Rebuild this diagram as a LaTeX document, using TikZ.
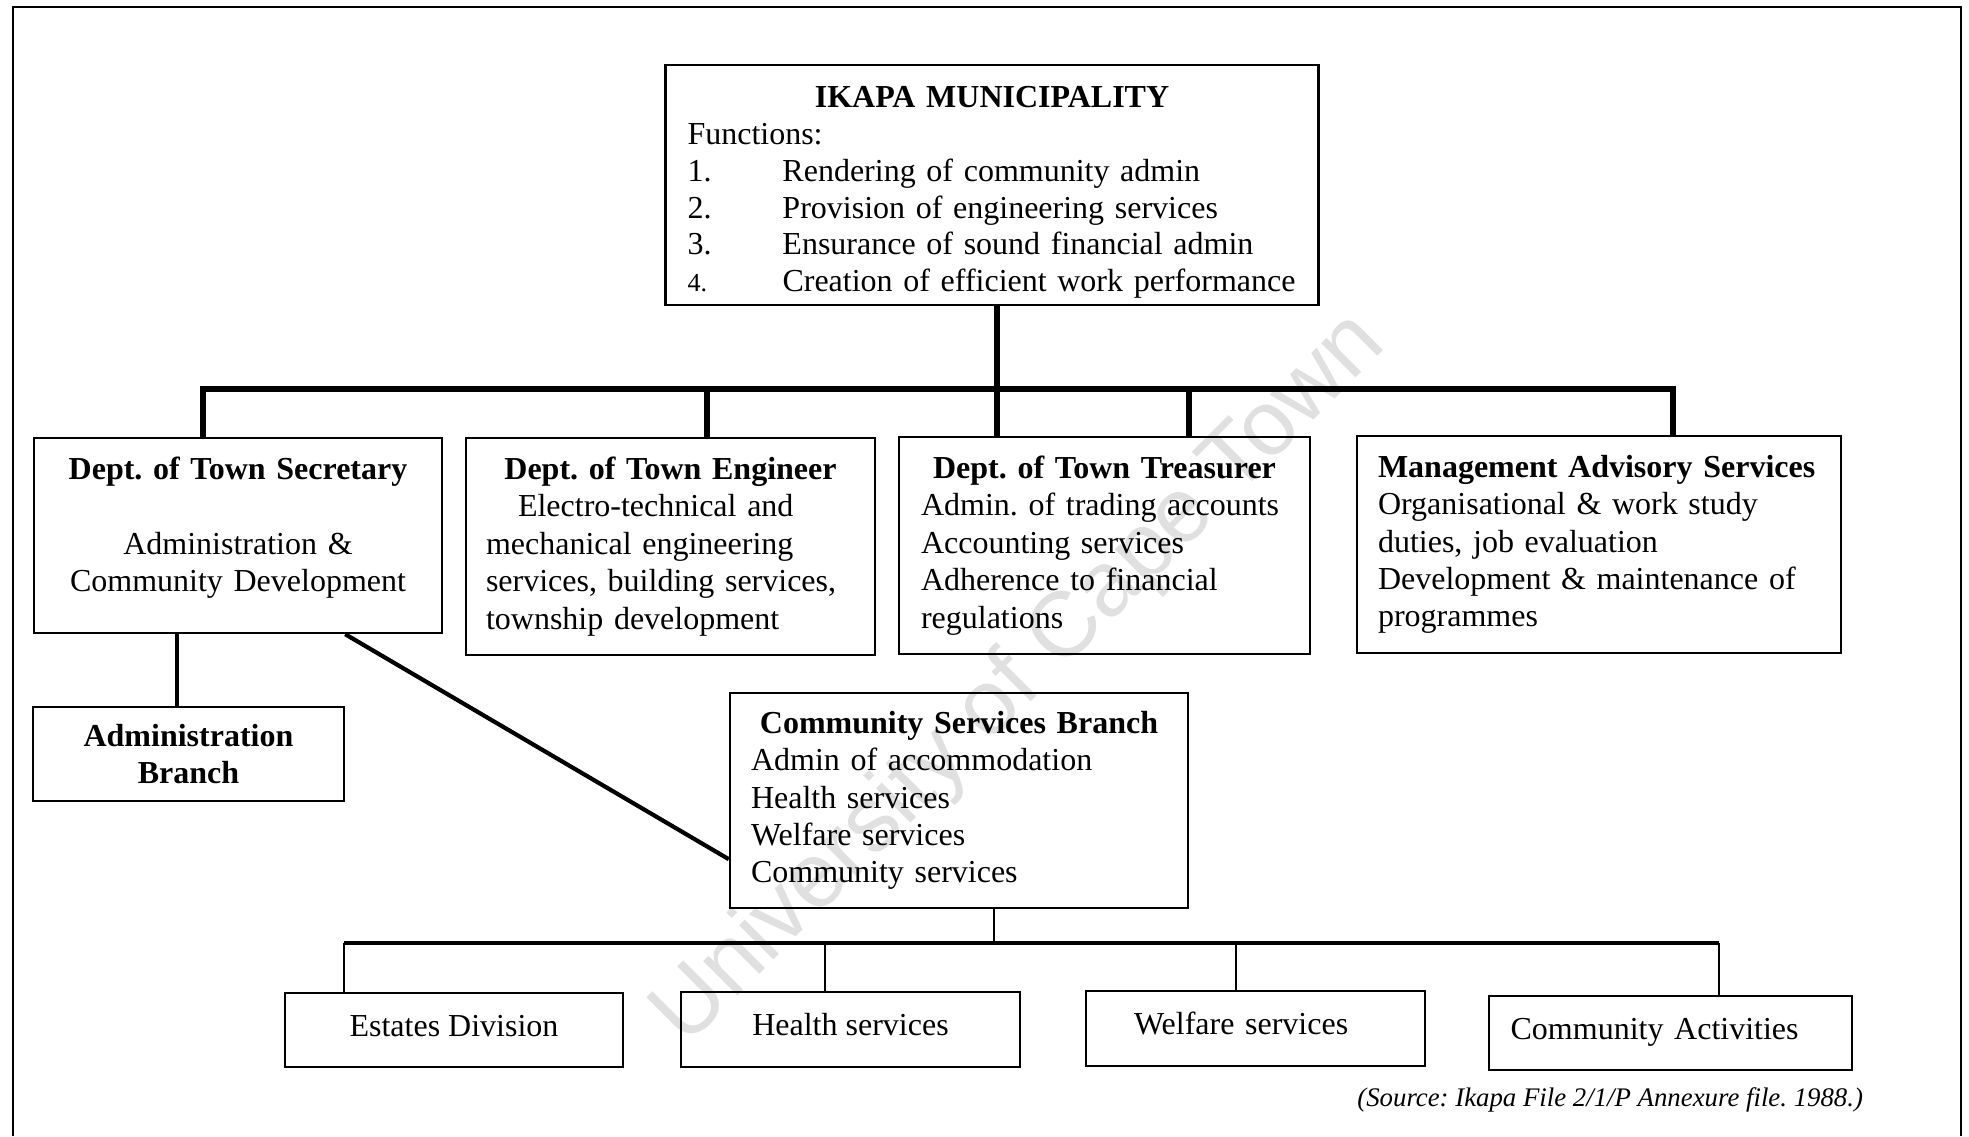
\documentclass[tikz,border=0pt]{standalone}
\usepackage{fontspec}
\setmainfont{Liberation Serif}
\newfontfamily\marksans{Liberation Sans}
\frenchspacing
\newcommand\orgfont{\fontsize{16}{18.7}\selectfont}
\newcommand\fn[1]{\makebox[47.5pt][l]{#1}}
\tikzset{
  orgbox/.style={draw, line width=1.2pt, font=\orgfont, inner ysep=2pt},
  unitbox/.style={orgbox, text height=11pt, text depth=5pt},
  busline/.style={line width=2.8pt, line join=miter},
  linkline/.style={line width=2.1pt},
  midline/.style={line width=1.9pt},
  thinline/.style={line width=1.1pt}
}
\begin{document}
\begin{tikzpicture}[x=0.5pt, y=-0.5pt]
  \useasboundingbox (0,0) rectangle (1969,1136);

  % watermark
  \node[rotate=45, text=black!12, font=\marksans\fontsize{46}{46}\selectfont] (mark) at (1020,680) {University of Cape Town};

  % frame
  \draw[line width=1.2pt] (13,1136) -- (13,7) -- (1961,7) -- (1961,1136);

  % top
  \node[orgbox, align=left, text width=304.5pt, inner xsep=11pt, minimum height=120pt,
        font=\fontsize{16}{18.4}\selectfont] (top) at (992,185)
    {\makebox[\linewidth]{\rule{0pt}{18pt}\bfseries IKAPA MUNICIPALITY}\\
     Functions:\\
     \fn{1.}Rendering of community admin\\
     \fn{2.}Provision of engineering services\\
     \fn{3.}Ensurance of sound financial admin\\
     \fn{\fontsize{13}{13}\selectfont 4.}Creation of efficient work performance};

  % departments
  \node[orgbox, align=center, text width=192pt, inner xsep=6pt, minimum height=97.5pt] (sec) at (238,535.5)
    {\textbf{Dept. of Town Secretary}\\[18.7pt]
     Administration \&\\ Community Development\rule[-11pt]{0pt}{11pt}};
  \node[orgbox, align=left, text width=184.5pt, inner xsep=10pt, minimum height=108.5pt] (eng) at (670.5,546.5)
    {\makebox[\linewidth]{\bfseries Dept. of Town Engineer}\\
     \hspace*{16pt}Electro-technical and\\
     mechanical engineering\\
     services, building services,\\
     township development};
  \node[orgbox, align=left, text width=183.5pt, inner xsep=11pt, minimum height=108.5pt] (tre) at (1104.5,545.5)
    {\makebox[\linewidth]{\bfseries Dept. of Town Treasurer}\\
     Admin. of trading accounts\\
     Accounting services\\
     Adherence to financial\\
     regulations};
  \node[orgbox, align=left, text width=221pt, inner xsep=10.5pt, minimum height=108.5pt] (mas) at (1599,544.5)
    {\textbf{Management Advisory Services}\\
     Organisational \& work study\\
     duties, job evaluation\\
     Development \& maintenance of\\
     programmes};

  % branches
  \node[orgbox, align=center, text width=143.5pt, inner xsep=6pt, minimum height=47pt] (adm) at (188.5,754)
    {\textbf{Administration}\\ \textbf{Branch}};
  \node[orgbox, align=left, text width=208pt, inner xsep=10.5pt, minimum height=107.5pt] (csb) at (959,800.5)
    {\makebox[\linewidth]{\bfseries Community Services Branch}\\
     Admin of accommodation\\
     Health services\\
     Welfare services\\
     Community services};

  % divisions
  \node[unitbox, align=center, minimum width=169pt, minimum height=37pt] (est) at (454,1030) {Estates Division};
  \node[unitbox, align=center, minimum width=169.5pt, minimum height=37.5pt] (hea) at (850.5,1029.5) {Health services};
  \node[unitbox, align=left, text width=121.5pt, inner xsep=24pt, minimum height=37.5pt] (wel) at (1255.5,1028.5) {Welfare services};
  \node[unitbox, align=left, text width=159.9pt, inner xsep=10.8pt, minimum height=37pt] (act) at (1670.5,1033) {Community Activities};

  \node[anchor=base east, font=\fontsize{13.4}{16}\selectfont\itshape] (src) at (1870,1106.5)
    {(Source: Ikapa File 2/1/P Annexure file. 1988.)};

  % top level connectors
  \coordinate (j1) at (203,389);
  \coordinate (j2) at (707,389);
  \coordinate (j3) at (997,389);
  \coordinate (j4) at (1189,389);
  \coordinate (j5) at (1673,389);
  \draw[busline] (j1 |- sec.north) -- (j1) -- (j5) -- (j5 |- mas.north);
  \draw[busline] (j3 |- top.south) -- (j3 |- tre.north);
  \foreach \j/\b in {j2/eng, j4/tre}
    \draw[busline] (\j) -- (\j |- \b.north);

  \draw[linkline] ([xshift=-5.75pt]adm.north) -- ([xshift=-5.75pt]adm.north |- sec.south);
  \draw[linkline] (sec.south -| adm.east) -- ([yshift=25pt]csb.south west);

  % lower connectors
  \coordinate (k0) at (994,943);
  \coordinate (k1) at (344,943);
  \coordinate (k2) at (825,943);
  \coordinate (k3) at (1236,943);
  \coordinate (k4) at (1719,943);
  \draw[thinline] (csb.south -| k0) -- (k0);
  \draw[midline] (k1) -- (k4);
  \foreach \k/\b in {k1/est, k2/hea, k3/wel, k4/act}
    \draw[thinline] (\k) -- (\k |- \b.north);
\end{tikzpicture}
\end{document}
